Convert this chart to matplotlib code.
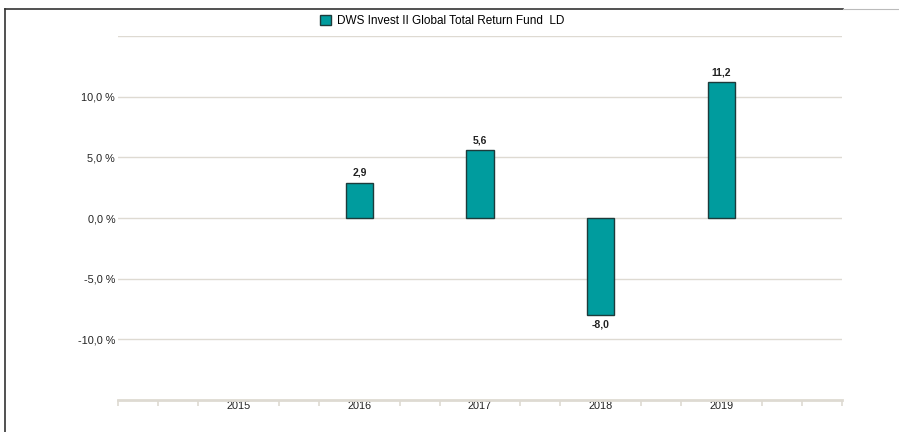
import matplotlib.pyplot as plt
from matplotlib.patches import Patch
from matplotlib.lines import Line2D

plt.rcParams['font.family'] = ['Liberation Sans', 'DejaVu Sans']

# data
years = ['2015', '2016', '2017', '2018', '2019']
returns = [None, 2.9, 5.6, -8.0, 11.2]
fund = 'DWS Invest II Global Total Return Fund  LD'
yticks = [-10, -5, 0, 5, 10]

teal = '#009c9e'
edge = '#1d3b3b'
grid = '#dedad2'

fig = plt.figure(figsize=(8.99, 4.32), dpi=100)
ax = fig.add_axes([118/899, 1 - 400/432, 724/899, (400 - 36)/432])

# year slots sit every 3 ticks on an 18 tick axis
pos = [3 * (i + 1) for i in range(len(years))]
for p, v in zip(pos, returns):
    if v is None:
        continue
    ax.bar(p, v, width=0.68, color=teal, edgecolor=edge, linewidth=1, zorder=3)
    lbl = f'{v:.1f}'.replace('.', ',')
    if v >= 0:
        ax.text(p, v + 0.4, lbl, ha='center', va='bottom', fontsize=7.5, fontweight='bold', color='#222222')
    else:
        ax.text(p, v - 0.4, lbl, ha='center', va='top', fontsize=7.5, fontweight='bold', color='#222222')

ax.set_xlim(0, 18)
ax.set_ylim(-15, 15)
for y in yticks + [15]:
    ax.axhline(y, color=grid, linewidth=1, zorder=1)

ax.set_yticks(yticks)
ax.set_yticklabels([f'{y:.1f} %'.replace('.', ',') for y in yticks], fontsize=7.8, color='#222222')
ax.tick_params(axis='y', length=0, pad=2)

ax.set_xticks(pos)
ax.set_xticklabels(years, fontsize=7.8, color='#222222')
ax.set_xticks([i for i in range(19) if i not in pos], minor=True)
ax.tick_params(axis='x', which='major', length=0, pad=1)
ax.tick_params(axis='x', which='minor', length=4, width=1.2, color=grid, direction='out')

for s in ['top', 'right', 'left']:
    ax.spines[s].set_visible(False)
ax.spines['bottom'].set_color(grid)
ax.spines['bottom'].set_linewidth(2)

leg = fig.legend(handles=[Patch(facecolor=teal, edgecolor=edge, label=fund)],
                 loc='center', bbox_to_anchor=(442/899, 1 - 21/432), frameon=False,
                 fontsize=8.5, handlelength=0.9, handleheight=0.9, handletextpad=0.5)

# outer frame
fig.add_artist(Line2D([5/899, 5/899], [0, 1 - 9/432], color='#333333', linewidth=1.2))
fig.add_artist(Line2D([5/899, 843/899], [1 - 9/432, 1 - 9/432], color='#333333', linewidth=1.2))
fig.add_artist(Line2D([843/899, 1], [1 - 9/432, 1 - 9/432], color='#bbbbbb', linewidth=0.8))

fig.savefig('out.png', dpi=100)
